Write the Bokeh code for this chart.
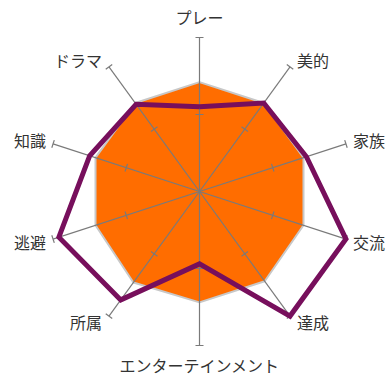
import numpy as np
from bokeh.plotting import figure
from bokeh.models import ColumnDataSource
from bokeh.core.properties import value
from bokeh.embed import file_html
from bokeh.resources import INLINE

categories = ["プレー", "美的", "家族", "交流", "達成", "エンターテインメント", "所属", "逃避", "知識", "ドラマ"]
series_a = [71, 71, 71, 71, 72, 72, 73, 71, 71, 71]      # orange filled area
series_b = [55, 71, 73, 100, 100, 47, 87, 96, 75, 70]    # purple line
max_value = 100
tick_values = [50, 100]

R_PX = 154.0
W, H = 386, 376
CX, CY = 199.0, 191.0  # center in canvas pixels

n = len(categories)
theta = np.deg2rad(90 - 360.0 / n * np.arange(n))
cos_t, sin_t = np.cos(theta), np.sin(theta)

p = figure(width=W, height=H, output_backend="svg", toolbar_location=None,
           x_range=(-CX / R_PX, (W - CX) / R_PX), y_range=(-(H - CY) / R_PX, CY / R_PX),
           min_border=0, outline_line_color=None)
p.axis.visible = False
p.grid.visible = False
p.background_fill_color = "white"

def radar_xy(vals):
    r = np.array(vals, dtype=float) / max_value
    return list(r * cos_t), list(r * sin_t)

# orange area
ax, ay = radar_xy(series_a)
p.patch(ax, ay, fill_color="#ff6d00", line_color="#c8c8c8", line_width=2)

# axis spokes
p.segment(x0=[0] * n, y0=[0] * n, x1=list(cos_t), y1=list(sin_t), line_color="#7a7a7a", line_width=1.2)

# ticks perpendicular to spokes
half = 4.0 / R_PX
tx0, ty0, tx1, ty1 = [], [], [], []
for tv in tick_values:
    r = tv / max_value
    for c, s in zip(cos_t, sin_t):
        px, py = -s, c
        tx0.append(r * c + half * px); ty0.append(r * s + half * py)
        tx1.append(r * c - half * px); ty1.append(r * s - half * py)
p.segment(x0=tx0, y0=ty0, x1=tx1, y1=ty1, line_color="#7a7a7a", line_width=1.2)

# purple line
bx, by = radar_xy(series_b)
p.line(bx + [bx[0]], by + [by[0]], line_color="#770f5c", line_width=5, line_join="miter")

# labels: offsets in screen px (positive = up)
aligns, xo, up = [], [], []
for c, s in zip(cos_t, sin_t):
    if abs(c) < 1e-6:
        aligns.append("center"); xo.append(0)
        up.append(18 * s + (3 if s > 0 else -1.5))
    else:
        aligns.append("left" if c > 0 else "right")
        xo.append(7 if c > 0 else -7)
        up.append(6 * s + (2.5 if s > 0 else -1.5))
src = ColumnDataSource(dict(x=list(cos_t), y=list(sin_t), text=categories, align=aligns, xo=xo, yo=[-v for v in up]))
p.text(x="x", y="y", text="text", source=src, text_align="align", text_baseline="middle",
       x_offset="xo", y_offset="yo", text_font=value("Noto Sans CJK JP"), text_font_size="16px",
       text_color="#333333")

open("out.html", "w").write(file_html(p, INLINE))
